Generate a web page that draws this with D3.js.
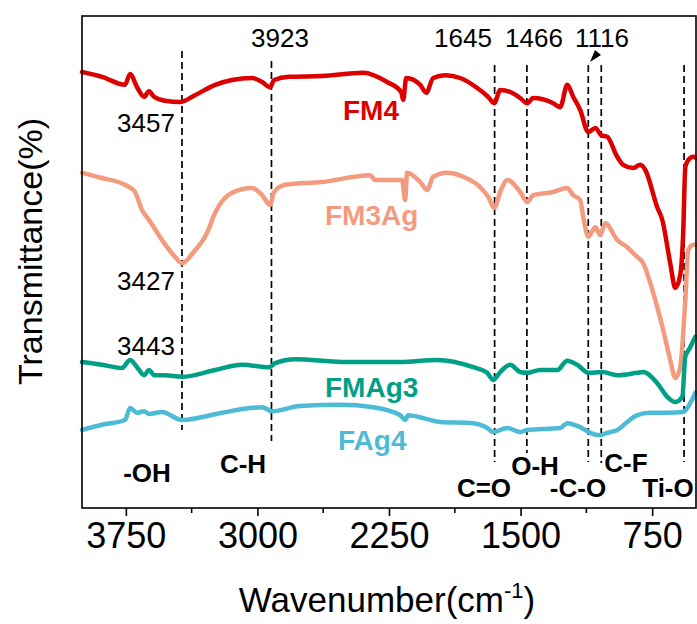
<!DOCTYPE html>
<html>
<head>
<meta charset="utf-8">
<script src="https://cdn.jsdelivr.net/npm/d3@7/dist/d3.min.js"></script>
<style>
  html, body { margin: 0; padding: 0; background: #fff; }
  svg { display: block; font-family: Arial, "Liberation Sans", sans-serif; }
</style>
</head>
<body>
<svg id="chart" width="697" height="624"></svg>
<script>
// --- Data (wavenumber cm-1, offset transmittance in arbitrary units) ---
const fm4 = [
  [4000, 109], [3886, 107.8], [3755, 105.8], [3726, 108.5], [3686, 105.2], [3646, 102.8],
  [3618, 104.2], [3589, 102.8], [3527, 101.8], [3441, 101.5], [3356, 103.2], [3241, 105.8],
  [3145, 107], [3030, 107.5], [2973, 106.5], [2928, 105.2], [2905, 107], [2819, 107.8],
  [2631, 108], [2397, 108.8], [2261, 106.5], [2181, 104], [2169, 102], [2152, 107.5],
  [2072, 105.8], [2038, 103.8], [1998, 107.5], [1930, 108.2], [1844, 107.5], [1747, 105],
  [1685, 102.8], [1650, 101.2], [1616, 104.5], [1559, 104], [1502, 102.5], [1462, 101.2],
  [1428, 102.5], [1314, 101.2], [1274, 100.2], [1234, 105.8], [1200, 102.8], [1160, 99.5],
  [1114, 94], [1074, 95], [1040, 93.2], [1006, 92.8], [949, 87.8], [915, 85.8], [858, 85],
  [818, 85.8], [789, 84.5], [721, 75.2], [692, 72], [647, 61.2], [618, 55], [590, 58.2],
  [573, 68.8], [561, 85.2], [544, 87], [515, 87.8], [500, 87.5]
];
const fm3ag = [
  [4000, 83.8], [3886, 82.5], [3755, 80.8], [3698, 79], [3658, 74.5], [3618, 72],
  [3544, 67], [3470, 62.8], [3430, 61.2], [3367, 63.8], [3287, 68.8], [3241, 73.8],
  [3145, 78.8], [3030, 80], [2973, 78.2], [2928, 75.8], [2905, 79], [2842, 80.8],
  [2631, 81.5], [2358, 83.2], [2329, 82], [2175, 82], [2158, 77], [2147, 83.8],
  [2072, 81.5], [2032, 79.5], [1998, 82.8], [1918, 83.8], [1827, 82.8], [1730, 80.2],
  [1685, 77.8], [1650, 75], [1616, 79], [1576, 82], [1502, 79], [1462, 76.5], [1428, 78.2],
  [1314, 79], [1234, 80], [1200, 78.2], [1160, 77], [1143, 72.8], [1114, 67.8], [1074, 70.2],
  [1046, 68.2], [1017, 71.2], [949, 67], [892, 65.2], [846, 63.2], [801, 61.2], [744, 53.8],
  [687, 44.5], [647, 37], [618, 32.5], [590, 35.2], [561, 52], [544, 64.5], [515, 65.8],
  [500, 65.8]
];
const fmag3 = [
  [4000, 36.5], [3886, 35.8], [3772, 35], [3726, 37], [3686, 35.2], [3646, 33.2],
  [3618, 34.5], [3589, 33.2], [3527, 33.2], [3430, 32.8], [3241, 34.5], [3088, 35.8],
  [2934, 35.2], [2899, 36.2], [2785, 37.2], [2517, 36.5], [2186, 36.5], [1976, 37],
  [1770, 35.2], [1690, 33.8], [1656, 32], [1616, 34], [1559, 35.8], [1502, 34],
  [1462, 33.8], [1388, 34.5], [1291, 34.5], [1234, 36.8], [1177, 35.8], [1114, 33.8],
  [1034, 34], [949, 33.2], [835, 33.8], [801, 34], [721, 31.2], [664, 27.8], [618, 26.5],
  [578, 27.8], [561, 37.8], [533, 40.2], [504, 42.8]
];
const fag4 = [
  [4000, 19.5], [3886, 20.8], [3755, 22], [3726, 25], [3686, 23.8], [3646, 24.2],
  [3618, 23.5], [3544, 24], [3430, 22], [3202, 23.8], [3042, 25], [2973, 25.2],
  [2916, 24.2], [2757, 25.5], [2529, 25.8], [2340, 25.2], [2186, 23.2], [2158, 22],
  [2141, 23.2], [1958, 21.5], [1770, 21.2], [1690, 20], [1656, 19], [1576, 20],
  [1502, 19], [1462, 19.5], [1274, 20], [1234, 21.2], [1160, 20.2], [1103, 18.8],
  [1046, 18.2], [1006, 18.8], [949, 19.5], [892, 21.5], [835, 23.2], [761, 23.8],
  [664, 23.8], [573, 24], [533, 26.2], [504, 28.8]
];

const seriesNames = ["FM4", "FM3Ag", "FMAg3", "FAg4"];
const seriesColors = ["#DC0000", "#F39B7F", "#00A087", "#4DBBD5"];
const seriesData = [fm4, fm3ag, fmag3, fag4];

const majorTicks = [3750, 3000, 2250, 1500, 750];
const minorTicks = [3375, 2625, 1875, 1125];

// dashed marker positions (cm-1) and their labels
const markerPos = [3430, 2920, 1648, 1464, 1114, 1040, 568];
const peakLabels = ["3457", "3427", "3443", "3923", "1645", "1466", "1116"];
const bondLabels = ["-OH", "C-H", "C=O", "O-H", "-C-O", "C-F", "Ti-O"];

// --- Layout ---
const margin = { left: 82, right: 696, top: 16, bottom: 508 };
const svg = d3.select("#chart");

const x = d3.scaleLinear().domain([4000, 500]).range([margin.left, margin.right]);
const y = d3.scaleLinear().domain([0, 123]).range([margin.bottom, margin.top]);

// dashed marker lines (top / bottom in px)
const markerExtent = [[51, 430], [61, 441], [65, 462], [65, 453], [65, 462], [65, 463], [65, 462]];
svg.append("g").selectAll("line")
  .data(markerPos)
  .join("line")
  .attr("x1", d => x(d)).attr("x2", d => x(d))
  .attr("y1", (d, i) => markerExtent[i][0])
  .attr("y2", (d, i) => markerExtent[i][1])
  .attr("stroke", "#000")
  .attr("stroke-width", 1.7)
  .attr("stroke-dasharray", "7,4");

// spectra
const line = d3.line()
  .x(d => x(d[0]))
  .y(d => y(d[1]))
  .curve(d3.curveMonotoneX);

svg.append("g").selectAll("path")
  .data(seriesData)
  .join("path")
  .attr("d", line)
  .attr("fill", "none")
  .attr("stroke", (d, i) => seriesColors[i])
  .attr("stroke-width", 4.5)
  .attr("stroke-linejoin", "round")
  .attr("stroke-linecap", "round");

// frame
svg.append("rect")
  .attr("x", margin.left).attr("y", margin.top)
  .attr("width", margin.right - margin.left)
  .attr("height", margin.bottom - margin.top)
  .attr("fill", "none")
  .attr("stroke", "#000")
  .attr("stroke-width", 1.6);

// bottom axis
const xAxis = d3.axisBottom(x).tickValues(majorTicks).tickSize(8).tickPadding(6)
  .tickFormat(d3.format("d"));
const gx = svg.append("g").attr("transform", `translate(0,${margin.bottom})`).call(xAxis);
gx.select(".domain").remove();
gx.selectAll(".tick line").attr("stroke-width", 1.6);
gx.selectAll(".tick text")
  .attr("font-size", 36)
  .attr("font-family", "Arial, 'Liberation Sans', sans-serif")
  .attr("fill", "#000");

svg.append("g").selectAll("line")
  .data(minorTicks)
  .join("line")
  .attr("x1", d => x(d)).attr("x2", d => x(d))
  .attr("y1", margin.bottom).attr("y2", margin.bottom + 5)
  .attr("stroke", "#000").attr("stroke-width", 1.6);

// peak number labels
const peakPos = [[146, 132], [146, 290], [146, 355], [280, 47], [463, 47], [534, 47], [602, 47]];
svg.append("g").selectAll("text")
  .data(peakLabels)
  .join("text")
  .attr("x", (d, i) => peakPos[i][0])
  .attr("y", (d, i) => peakPos[i][1])
  .attr("text-anchor", "middle")
  .attr("font-size", 26)
  .attr("fill", "#000")
  .text(d => d);

// small arrow head at 1116
svg.append("path")
  .attr("d", "M590,62L595,50L601,55Z")
  .attr("fill", "#000");

// series labels
const seriesLabelPos = [[343, 120], [325, 225], [325, 397], [338, 450]];
svg.append("g").selectAll("text")
  .data(seriesNames)
  .join("text")
  .attr("x", (d, i) => seriesLabelPos[i][0])
  .attr("y", (d, i) => seriesLabelPos[i][1])
  .attr("font-size", 28)
  .attr("font-weight", "bold")
  .attr("fill", (d, i) => seriesColors[i])
  .text(d => d);

// bond labels
const bondPos = [[147, 482], [243, 473], [484, 497], [535, 475], [578, 497], [626, 472], [668, 497]];
svg.append("g").selectAll("text")
  .data(bondLabels)
  .join("text")
  .attr("x", (d, i) => bondPos[i][0])
  .attr("y", (d, i) => bondPos[i][1])
  .attr("text-anchor", "middle")
  .attr("font-size", 26)
  .attr("font-weight", "bold")
  .attr("fill", "#000")
  .text(d => d);

// axis titles
const xt = svg.append("text")
  .attr("x", 387).attr("y", 612)
  .attr("text-anchor", "middle")
  .attr("font-size", 35)
  .attr("fill", "#000");
xt.append("tspan").text("Wavenumber(cm");
xt.append("tspan").attr("font-size", 22).attr("dy", -14).text("-1");
xt.append("tspan").attr("dy", 14).text(")");

svg.append("text")
  .attr("transform", "translate(42,385) rotate(-90)")
  .attr("font-size", 34)
  .attr("fill", "#000")
  .text("Transmittance(%)");
</script>
</body>
</html>
